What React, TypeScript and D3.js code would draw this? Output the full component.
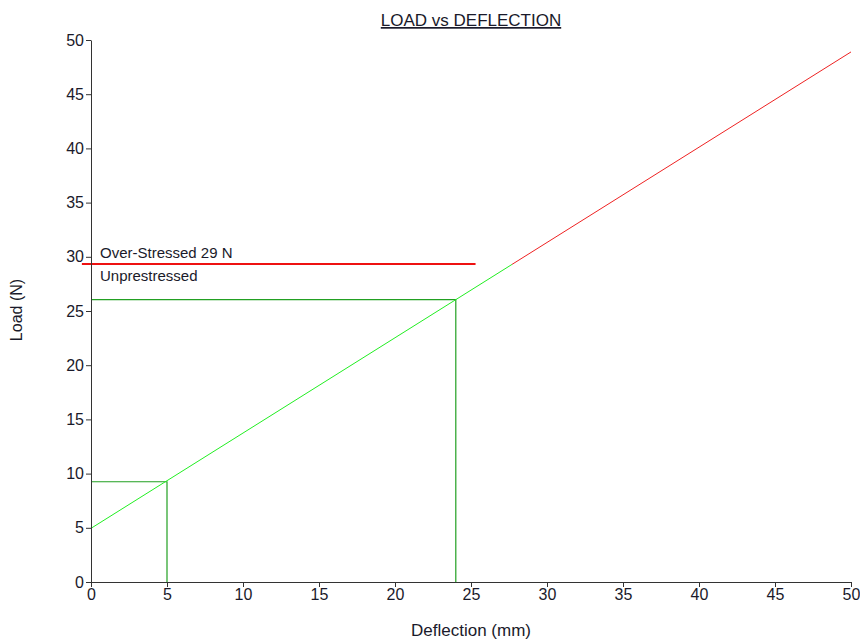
import React, { useEffect, useRef } from "react";
import * as d3 from "d3";

const xTicks = [0, 5, 10, 15, 20, 25, 30, 35, 40, 45, 50];
const yTicks = [0, 5, 10, 15, 20, 25, 30, 35, 40, 45, 50];

// load line: below threshold (green) and above (red)
const greenLine: [number, number][] = [
  [0, 4.95],
  [27.7, 29.3],
];
const redLine: [number, number][] = [
  [27.7, 29.3],
  [50, 48.9],
];

// drop lines from the load line to the axes
const markers = [
  { x: 5, y: 9.25 },
  { x: 24, y: 26.05 },
];

const threshold = { value: 29.33, from: -0.6, to: 25.3 };
const thresholdLabels = ["Over-Stressed 29 N", "Unprestressed"];

const App = () => {
  const ref = useRef<SVGSVGElement>(null);

  useEffect(() => {
    const width = 860,
      height = 639;
    const margin = { top: 40, right: 9, bottom: 57, left: 91 };
    const w = width - margin.left - margin.right,
      h = height - margin.top - margin.bottom;
    const font = "Liberation Sans, Arial, sans-serif";

    const svg = d3.select(ref.current);
    svg.selectAll("*").remove();
    const g = svg
      .append("g")
      .attr("transform", "translate(" + margin.left + "," + margin.top + ")");

    const x = d3.scaleLinear().domain([0, 50]).range([0, w]);
    const y = d3.scaleLinear().domain([0, 50]).range([h, 0]);
    const line = d3
      .line<[number, number]>()
      .x((d) => x(d[0]))
      .y((d) => y(d[1]));

    // drop lines
    markers.forEach((m) => {
      g.append("path")
        .attr(
          "d",
          line([
            [0, m.y],
            [m.x, m.y],
            [m.x, 0],
          ])
        )
        .attr("fill", "none")
        .attr("stroke", "#22a022")
        .attr("stroke-width", 1.2);
    });

    // threshold
    g.append("line")
      .attr("x1", x(threshold.from))
      .attr("x2", x(threshold.to))
      .attr("y1", y(threshold.value))
      .attr("y2", y(threshold.value))
      .attr("stroke", "#ee1111")
      .attr("stroke-width", 2);

    g.append("text")
      .attr("x", 9)
      .attr("y", y(threshold.value) - 6)
      .text(thresholdLabels[0]);
    g.append("text")
      .attr("x", 9)
      .attr("y", y(threshold.value) + 17)
      .text(thresholdLabels[1]);
    g.selectAll("text")
      .attr("font-family", font)
      .attr("font-size", 15)
      .attr("fill", "#1a1a2a");

    g.append("path")
      .attr("d", line(greenLine))
      .attr("fill", "none")
      .attr("stroke", "#22ee22")
      .attr("stroke-width", 1);
    g.append("path")
      .attr("d", line(redLine))
      .attr("fill", "none")
      .attr("stroke", "#ee2222")
      .attr("stroke-width", 1);

    // axes
    const xAxis = g
      .append("g")
      .attr("transform", "translate(0," + h + ")")
      .call(d3.axisBottom(x).tickValues(xTicks).tickSize(5).tickPadding(2).tickSizeOuter(0));
    const yAxis = g
      .append("g")
      .call(d3.axisLeft(y).tickValues(yTicks).tickSize(5).tickPadding(2).tickSizeOuter(0));
    [xAxis, yAxis].forEach((a) => {
      a.attr("font-family", font).attr("font-size", 16);
      a.selectAll("text").attr("fill", "#1a1a2a");
      a.selectAll("line").attr("stroke", "#333");
      a.select(".domain").attr("stroke", "#333");
    });

    // titles
    svg
      .append("text")
      .attr("x", margin.left + w / 2)
      .attr("y", 26)
      .attr("text-anchor", "middle")
      .attr("text-decoration", "underline")
      .attr("font-size", 17)
      .text("LOAD vs DEFLECTION");
    svg
      .append("text")
      .attr("x", margin.left + w / 2)
      .attr("y", 636)
      .attr("text-anchor", "middle")
      .attr("font-size", 17)
      .text("Deflection (mm)");
    svg
      .append("text")
      .attr("transform", "translate(22,310) rotate(-90)")
      .attr("text-anchor", "middle")
      .attr("font-size", 16)
      .text("Load (N)");
    svg
      .selectAll(":scope > text")
      .attr("font-family", font)
      .attr("fill", "#1a1a2a");
  }, []);

  return (
    <svg
      ref={ref}
      width={860}
      height={639}
      style={{ position: "absolute", left: 0, top: 0, background: "#fff" }}
    />
  );
};

export default App;
